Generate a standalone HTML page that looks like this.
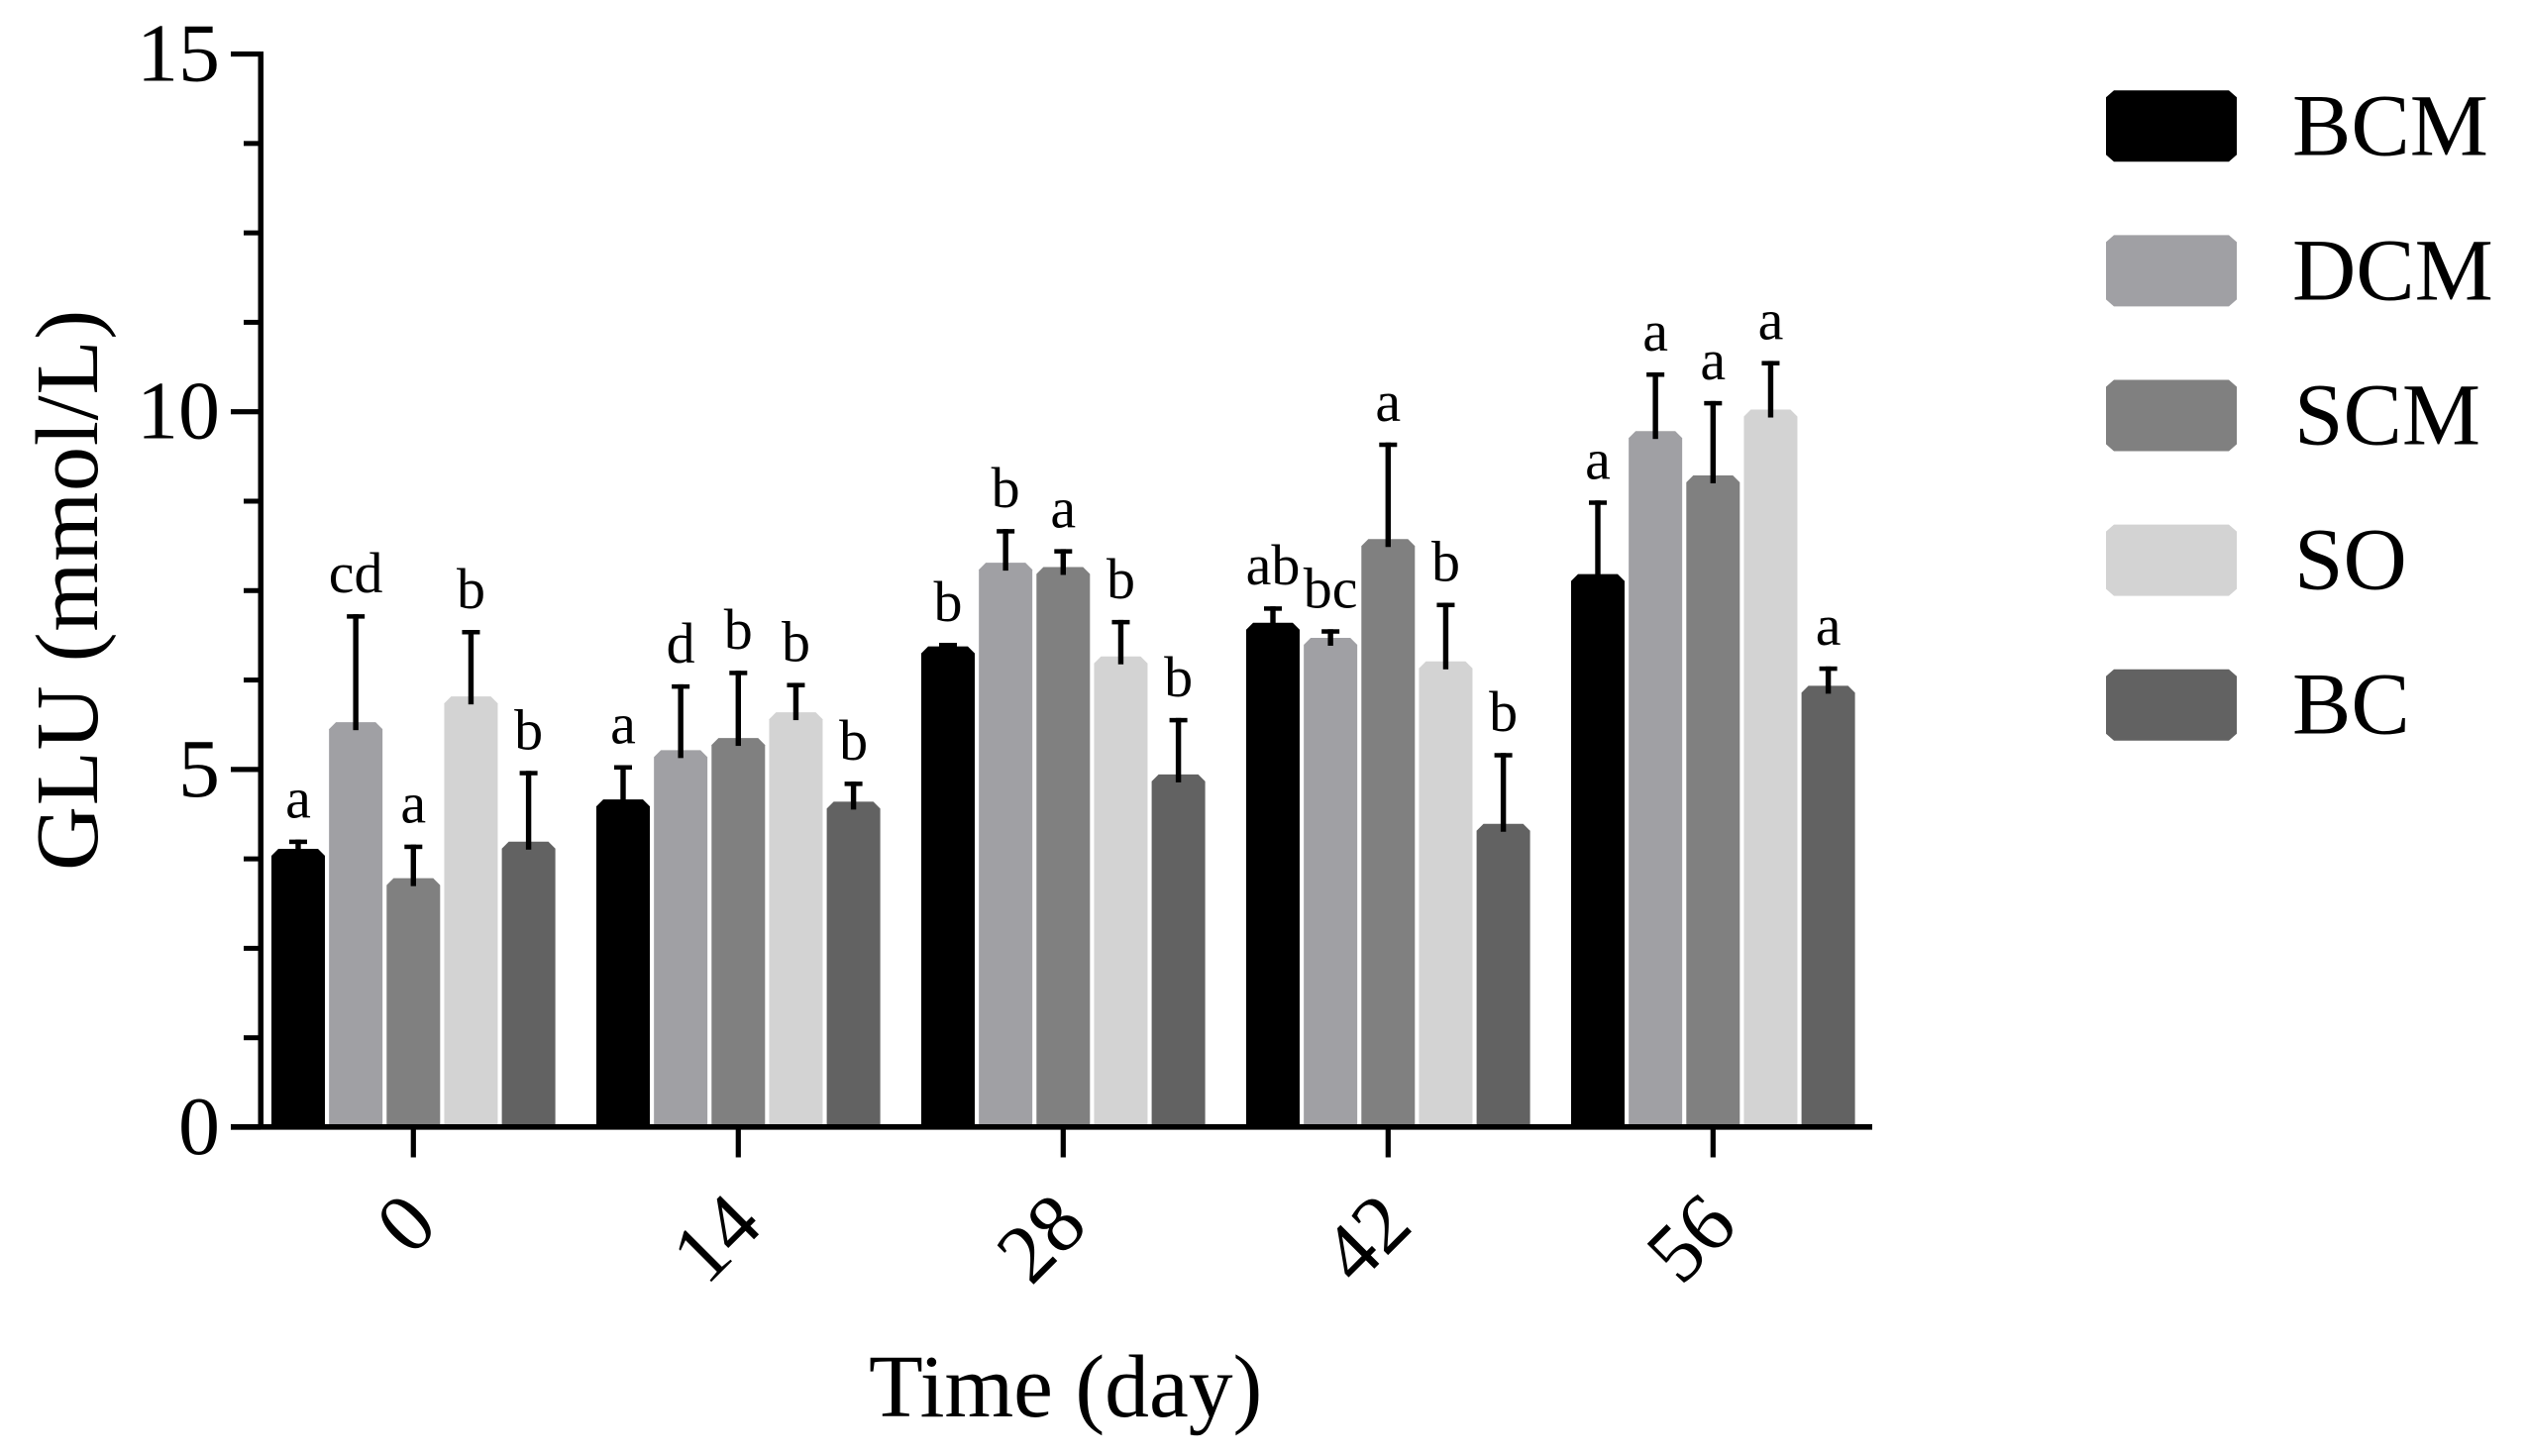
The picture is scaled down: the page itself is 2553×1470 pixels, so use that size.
<!DOCTYPE html>
<html lang="en">
<head>
<meta charset="utf-8">
<title>GLU over time</title>
<style>
  html, body { margin: 0; padding: 0; background: #fff; }
  svg { display: block; }
  text { font-family: "Liberation Serif", serif; fill: #000; }
</style>
</head>
<body>
<svg id="chart" xmlns="http://www.w3.org/2000/svg" width="2553" height="1470" viewBox="0 0 2553 1470">
  <rect x="0" y="0" width="2553" height="1470" fill="#fff"/>
  <g id="bars"></g>
  <g id="errors"></g>
  <g id="letters"></g>
  <g id="axes"></g>
  <g id="legend"></g>
  <text x="98" y="879" font-size="90" letter-spacing="0.8" transform="rotate(-90 98 879)">GLU (mmol/L)</text>
  <text x="877" y="1430" font-size="89.6">Time (day)</text>
</svg>
<script>
const categories = ['0', '14', '28', '42', '56'];
const seriesNames = ['BCM', 'DCM', 'SCM', 'SO', 'BC'];
const yTickLabels = [0, 5, 10, 15];
const yMinorTicks = [1.25, 2.5, 3.75, 6.25, 7.5, 8.75, 11.25, 12.5, 13.75];

const valuesBCM = [3.89, 4.58, 6.72, 7.05, 7.73];
const valuesDCM = [5.66, 5.27, 7.89, 6.84, 9.73];
const valuesSCM = [3.48, 5.44, 7.83, 8.22, 9.11];
const valuesSO  = [6.02, 5.80, 6.58, 6.51, 10.03];
const valuesBC  = [3.99, 4.55, 4.93, 4.24, 6.17];

const errorsBCM = [0.13, 0.48, 0.05, 0.23, 1.03];
const errorsDCM = [1.51, 0.92, 0.47, 0.12, 0.82];
const errorsSCM = [0.47, 0.94, 0.25, 1.35, 1.04];
const errorsSO  = [0.93, 0.41, 0.51, 0.82, 0.68];
const errorsBC  = [0.99, 0.28, 0.79, 0.99, 0.27];

const lettersBCM = ['a', 'a', 'b', 'ab', 'a'];
const lettersDCM = ['cd', 'd', 'b', 'bc', 'a'];
const lettersSCM = ['a', 'b', 'a', 'a', 'a'];
const lettersSO  = ['b', 'b', 'b', 'b', 'a'];
const lettersBC  = ['b', 'b', 'b', 'b', 'a'];

const seriesValues = [valuesBCM, valuesDCM, valuesSCM, valuesSO, valuesBC];
const seriesErrors = [errorsBCM, errorsDCM, errorsSCM, errorsSO, errorsBC];
const seriesLetters = [lettersBCM, lettersDCM, lettersSCM, lettersSO, lettersBC];
const seriesFills = ['#000000', '#a0a0a4', '#808080', '#d3d3d3', '#626262'];

const NS = 'http://www.w3.org/2000/svg';
function yScale(v) { return 1138 - v * 72.23; }
function groupX(i) { return 417.3 + 328 * i; }
function barX(i, j) { return groupX(i) + (j - 2) * 58.15; }

function make(tag, attrs, parent) {
  const el = document.createElementNS(NS, tag);
  for (const k in attrs) el.setAttribute(k, attrs[k]);
  parent.appendChild(el);
  return el;
}
function chamfer(x0, x1, y0, y1, c) {
  return 'M' + x0 + ' ' + y1 + 'L' + x0 + ' ' + (y0 + c) + 'L' + (x0 + c) + ' ' + y0 +
         'L' + (x1 - c) + ' ' + y0 + 'L' + x1 + ' ' + (y0 + c) + 'L' + x1 + ' ' + y1 + 'Z';
}

const barsG = document.getElementById('bars');
const errorsG = document.getElementById('errors');
const lettersG = document.getElementById('letters');
const axesG = document.getElementById('axes');
const legendG = document.getElementById('legend');

seriesValues.forEach(function (vals, j) {
  vals.forEach(function (v, i) {
    const cx = barX(i, j);
    const top = yScale(v);
    const bar = make('path', { d: chamfer(cx - 27, cx + 27, top, yScale(0), 7), fill: seriesFills[j] }, barsG);
    
    

    const capTop = yScale(v + seriesErrors[j][i]);
    const stem = make('rect', { x: cx - 2.7, y: capTop, width: 5.4, height: top + 8 - capTop, fill: '#000' }, errorsG);
    
    
    const cap = make('rect', { x: cx - 9, y: capTop, width: 18, height: 4.5, fill: '#000' }, errorsG);
    
    

    const letter = make('text', { x: cx, y: capTop - 22, 'font-size': 58, 'text-anchor': 'middle' }, lettersG);
    letter.textContent = seriesLetters[j][i];
    
    
  });
});

const yAxisLine = make('rect', { x: 260.5, y: 52, width: 5.5, height: 1088.5, fill: '#000' }, axesG);


const xAxisLine = make('rect', { x: 233, y: 1135, width: 1657, height: 5.6, fill: '#000' }, axesG);



yTickLabels.forEach(function (t) {
  const tick = make('rect', { x: 233, y: yScale(t) - 2.6, width: 30, height: 5.2, fill: '#000' }, axesG);
  
  
  const label = make('text', { x: 222, y: yScale(t) + 27, 'font-size': 84, 'text-anchor': 'end' }, axesG);
  label.textContent = t;
  
  
});
yMinorTicks.forEach(function (t) {
  const tick = make('rect', { x: 246, y: yScale(t) - 2.5, width: 17, height: 5, fill: '#000' }, axesG);
  
  
});
categories.forEach(function (c, i) {
  const x = groupX(i);
  const tick = make('rect', { x: x - 2.6, y: 1140, width: 5.2, height: 28.5, fill: '#000' }, axesG);
  
  
  const ax = x + 27;
  const label = make('text', { x: ax, y: 1240, 'font-size': 84, 'text-anchor': 'end', transform: 'rotate(-45 ' + ax + ' 1240)' }, axesG);
  label.textContent = c;
  
  
});

seriesNames.forEach(function (name, j) {
  const top = 91.3 + 146.1 * j;
  const swatch = make('path', {
    d: 'M2126 ' + (top + 7) + 'L2134 ' + top + 'L2250 ' + top + 'L2258 ' + (top + 7) +
       'L2258 ' + (top + 65) + 'L2250 ' + (top + 72) + 'L2134 ' + (top + 72) + 'L2126 ' + (top + 65) + 'Z',
    fill: seriesFills[j]
  }, legendG);
  
  
  const label = make('text', { x: name[0] === 'S' ? 2316 : 2314, y: top + 65, 'font-size': 89 }, legendG);
  label.textContent = name;
  
  
});
</script>
</body>
</html>
